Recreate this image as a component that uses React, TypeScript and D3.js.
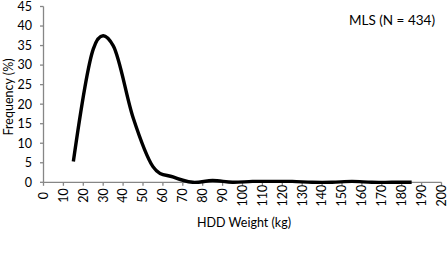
import * as d3 from 'd3'

const WEIGHT_KG = [15, 25, 35, 45, 55, 65, 75, 85, 95, 105, 115, 125, 135, 145, 155, 165, 175, 185]
const FREQUENCY_PCT = [5.3, 34.1, 35.0, 16.6, 4.0, 1.38, 0, 0.46, 0, 0.23, 0.23, 0.23, 0, 0, 0.23, 0, 0, 0]
const X_TICKS = d3.range(0, 201, 10)
const Y_TICKS = d3.range(0, 46, 5)
const SERIES_LABEL = 'MLS (N = 434)'
const X_TITLE = 'HDD Weight (kg)'
const Y_TITLE = 'Frequency (%)'

const WIDTH = 448
const HEIGHT = 254
const AXIS = '#868686'
const FONT = 'Lato, "Open Sans", sans-serif'

export default function App() {
  const x = d3.scaleLinear().domain([0, 200]).range([43.5, 441.5])
  const y = d3.scaleLinear().domain([0, 45]).range([182.3, 6.5])
  const points = WEIGHT_KG.map((w, i) => [w, FREQUENCY_PCT[i]] as [number, number])
  // excel-style smoothing ~ uniform catmull-rom
  const line = d3
    .line<[number, number]>()
    .x((d) => x(d[0]))
    .y((d) => y(d[1]))
    .curve(d3.curveCatmullRom.alpha(0))

  return (
    <svg
      width={WIDTH}
      height={HEIGHT}
      viewBox={`0 0 ${WIDTH} ${HEIGHT}`}
      style={{ position: 'absolute', left: 0, top: 0, background: '#fff' }}
      fontFamily={FONT}
    >
      <rect width={WIDTH} height={HEIGHT} fill="#fff" />

      {/* y axis */}
      <line x1={x(0)} x2={x(0)} y1={y(45)} y2={y(0)} stroke={AXIS} strokeWidth={1.3} />
      {Y_TICKS.map((t) => (
        <g key={t}>
          <line x1={x(0) - 3.5} x2={x(0)} y1={y(t)} y2={y(t)} stroke={AXIS} strokeWidth={1.3} />
          <text x={32} y={y(t)} dy="0.35em" textAnchor="end" fontSize={12.5} fill="#000">
            {t}
          </text>
        </g>
      ))}

      {/* x axis */}
      <line x1={x(0)} x2={x(200)} y1={y(0)} y2={y(0)} stroke={AXIS} strokeWidth={1.3} />
      {X_TICKS.map((t) => (
        <g key={t}>
          <line x1={x(t)} x2={x(t)} y1={y(0)} y2={y(0) + 3.5} stroke={AXIS} strokeWidth={1.3} />
          <text
            transform={`translate(${x(t)},195.5) rotate(-90)`}
            dy="0.35em"
            textAnchor="middle"
            fontSize={12.5}
            fill="#000"
          >
            {t}
          </text>
        </g>
      ))}

      <path d={line(points) ?? undefined} fill="none" stroke="#000" strokeWidth={3.4} strokeLinejoin="round" />

      <text x={435} y={25} textAnchor="end" fontSize={13.5} fill="#000">
        {SERIES_LABEL}
      </text>
      <text x={244} y={227} textAnchor="middle" fontSize={12.5} fill="#000">
        {X_TITLE}
      </text>
      <text transform="translate(13,97) rotate(-90)" textAnchor="middle" fontSize={12.5} fill="#000">
        {Y_TITLE}
      </text>
    </svg>
  )
}
